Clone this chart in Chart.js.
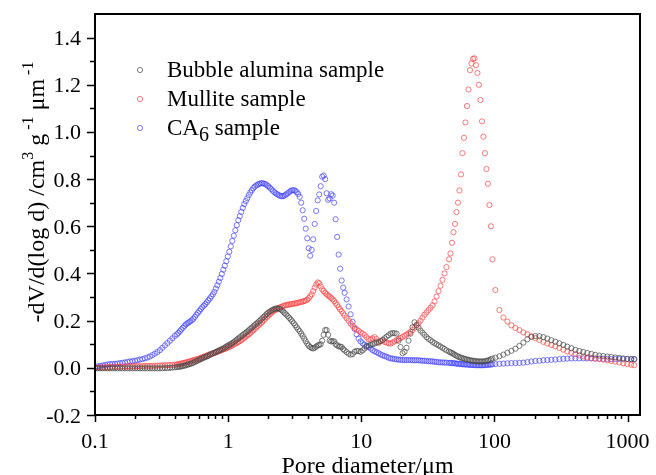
<!DOCTYPE html>
<html>
<head>
<meta charset="utf-8">
<script src="https://cdn.jsdelivr.net/npm/chart.js@4.4.0/dist/chart.umd.min.js"></script>
<style>
  html, body { margin: 0; padding: 0; background: #fff; }
</style>
</head>
<body>
<canvas id="chart" width="656" height="475"></canvas>
<script>
'use strict'
const FONT = '"Liberation Serif", "Times New Roman", serif'

// pore diameter (um), shared by all three samples
const poreDiameter = [
  0.1, 0.1044, 0.109, 0.1138, 0.1189, 0.1241, 0.1296, 0.1353, 0.1413, 0.1475, 0.154, 0.1608, 0.1679, 0.1753, 0.183,
  0.1911, 0.1995, 0.2083, 0.2175, 0.2271, 0.2371, 0.2476, 0.2585, 0.2699, 0.2818, 0.2943, 0.3073, 0.3208, 0.335,
  0.3498, 0.3652, 0.3813, 0.3981,
  0.4121, 0.4229, 0.434, 0.4454, 0.4571, 0.4691, 0.4814, 0.494, 0.507, 0.5203, 0.534, 0.548, 0.5623, 0.5771, 0.5923,
  0.6078, 0.6237, 0.6401, 0.6569, 0.6742, 0.6918, 0.71, 0.7286, 0.7477, 0.7674, 0.7875, 0.8082, 0.8294, 0.8511, 0.8734,
  0.8964, 0.92, 0.9441, 0.9688, 0.9943, 1.0203, 1.0471, 1.0746, 1.1028, 1.1318, 1.1614, 1.1919, 1.2232, 1.2553, 1.2882,
  1.3221, 1.3568, 1.3924, 1.4289, 1.4665, 1.505, 1.5445, 1.5849, 1.6265, 1.6692, 1.713, 1.7579, 1.8041, 1.8514, 1.9,
  1.9498, 2.001, 2.0535, 2.1074, 2.1627, 2.2195, 2.2777, 2.3375, 2.3988, 2.4618, 2.5264, 2.5927, 2.6607, 2.7305, 2.8022,
  2.8757, 2.9512, 3.0287, 3.1081, 3.1897, 3.2734, 3.3593,
  3.447, 3.538, 3.631, 3.727, 3.825, 3.925, 4.027, 4.134, 4.243, 4.354, 4.467, 4.585, 4.706, 4.829, 4.955, 5.085, 5.219,
  5.355, 5.495, 5.64, 5.788, 5.94, 6.095, 6.255, 6.42, 6.588, 6.761, 6.939, 7.12, 7.307, 7.499,
  7.762, 8.035, 8.318, 8.61, 8.913, 9.226, 9.55, 9.886, 10.23, 10.59, 10.96, 11.35, 11.75, 12.16, 12.59, 13.03, 13.49,
  13.96, 14.45, 14.96, 15.49, 16.03, 16.6, 17.18, 17.78, 18.41, 19.05, 19.72, 20.42, 21.13, 21.88, 22.65, 23.44, 24.27,
  25.12, 26.0, 26.92, 27.86, 28.84, 29.85, 30.9, 31.99, 33.11, 34.28, 35.48, 36.73, 38.02, 39.36, 40.74, 42.17, 43.65,
  45.58, 46.77, 48.0, 49.26, 50.55, 51.88, 53.24, 54.64, 56.07, 57.54, 59.05, 60.6, 62.19, 63.83, 65.5, 67.22, 68.99,
  70.79, 72.65, 74.56, 76.52, 78.52, 80.59, 82.7, 84.87, 87.1, 89.39, 91.73, 94.14, 96.6,
  101.7, 109, 116.8, 125.2, 134.1, 143.7, 154, 165, 176.8, 189.5, 203, 217.6, 233.1, 249.7, 267.6, 286.7, 307.3, 329.3,
  352.7, 378, 405.1, 434.1, 465.1, 498.4, 534.1, 572.3, 613.2, 657.1, 704.1, 754.5, 808.5, 866.4, 928.4, 994.3, 1065, 1122,
]

const bubbleAlumina = [
  -0.002, -0.002, -0.002, -0.002, -0.002, -0.002, -0.002, -0.002, -0.002, -0.002, -0.002, -0.002, -0.002, -0.002,
  -0.002, -0.002, -0.002, -0.002, -0.002, -0.002, -0.002, -0.002, -0.002, -0.002, -0.002, -0.002, -0.002, -0.002,
  -0.001, -0.001, 0.0, 0.001, 0.002,
  0.003, 0.004, 0.005, 0.006, 0.008, 0.009, 0.011, 0.013, 0.015, 0.017, 0.019, 0.022, 0.025, 0.028, 0.031, 0.034, 0.037,
  0.04, 0.043, 0.046, 0.048, 0.051, 0.055, 0.058, 0.061, 0.064, 0.067, 0.07, 0.073, 0.076, 0.079, 0.082, 0.086, 0.09,
  0.094, 0.097, 0.101, 0.105, 0.109, 0.114, 0.119, 0.124, 0.129, 0.134, 0.139, 0.144, 0.149, 0.154, 0.159, 0.165, 0.17,
  0.176, 0.181, 0.187, 0.192, 0.198, 0.204, 0.21, 0.216, 0.222, 0.228, 0.234, 0.238, 0.242, 0.246, 0.249, 0.251, 0.252,
  0.251, 0.249, 0.244, 0.238, 0.232, 0.226, 0.219, 0.212, 0.205, 0.197, 0.189, 0.181, 0.172, 0.163,
  0.155, 0.145, 0.135, 0.124, 0.113, 0.102, 0.094, 0.088, 0.084, 0.082, 0.085, 0.09, 0.095, 0.097, 0.1, 0.115, 0.14,
  0.16, 0.16, 0.14, 0.115, 0.112, 0.113, 0.112, 0.1, 0.095, 0.091, 0.09, 0.088, 0.08, 0.074,
  0.067, 0.06, 0.056, 0.058, 0.068, 0.072, 0.071, 0.068, 0.074, 0.082, 0.09, 0.094, 0.097, 0.1, 0.103, 0.107, 0.11,
  0.113, 0.118, 0.125, 0.132, 0.138, 0.145, 0.147, 0.147, 0.145, 0.115, 0.088, 0.062, 0.068, 0.085, 0.115, 0.145, 0.172,
  0.193, 0.182, 0.17, 0.158, 0.149, 0.14, 0.13, 0.123, 0.117, 0.11, 0.105, 0.1, 0.095, 0.09, 0.085, 0.08, 0.074,
  0.069, 0.066, 0.063, 0.059, 0.055, 0.051, 0.048, 0.045, 0.043, 0.041, 0.039, 0.037, 0.035, 0.034, 0.032, 0.031, 0.03,
  0.029, 0.028, 0.027, 0.027, 0.027, 0.027, 0.027, 0.028, 0.029, 0.031, 0.033, 0.036, 0.039,
  0.043, 0.049, 0.056, 0.064, 0.072, 0.081, 0.093, 0.107, 0.121, 0.131, 0.135, 0.134, 0.13, 0.124, 0.117, 0.111, 0.104, 0.097,
  0.09, 0.083, 0.076, 0.071, 0.067, 0.063, 0.059, 0.055, 0.052, 0.05, 0.048, 0.046, 0.044, 0.042, 0.04, 0.038, 0.037, 0.036,
]

const mullite = [
  0.0, 0.001, 0.001, 0.002, 0.002, 0.003, 0.003, 0.004, 0.004, 0.005, 0.005, 0.005, 0.006, 0.006, 0.006, 0.006, 0.007,
  0.007, 0.007, 0.007, 0.008, 0.008, 0.008, 0.008, 0.009, 0.009, 0.01, 0.01, 0.011, 0.011, 0.012, 0.012, 0.013,
  0.014, 0.015, 0.017, 0.018, 0.02, 0.021, 0.023, 0.024, 0.026, 0.028, 0.03, 0.032, 0.034, 0.036, 0.038, 0.04, 0.042,
  0.045, 0.047, 0.05, 0.052, 0.055, 0.057, 0.059, 0.061, 0.063, 0.065, 0.068, 0.07, 0.073, 0.075, 0.078, 0.08, 0.083,
  0.086, 0.089, 0.092, 0.095, 0.099, 0.102, 0.106, 0.109, 0.113, 0.118, 0.122, 0.127, 0.132, 0.137, 0.142, 0.148, 0.153,
  0.159, 0.165, 0.171, 0.177, 0.183, 0.189, 0.195, 0.202, 0.208, 0.215, 0.221, 0.227, 0.233, 0.238, 0.243, 0.246, 0.25,
  0.254, 0.257, 0.259, 0.262, 0.264, 0.266, 0.267, 0.269, 0.27, 0.271, 0.272, 0.273, 0.274, 0.276,
  0.278, 0.279, 0.281, 0.283, 0.285, 0.289, 0.295, 0.303, 0.312, 0.325, 0.34, 0.353, 0.362, 0.358, 0.345, 0.333, 0.325,
  0.318, 0.312, 0.306, 0.302, 0.296, 0.29, 0.283, 0.275, 0.266, 0.257, 0.248, 0.24, 0.231, 0.222,
  0.21, 0.2, 0.188, 0.178, 0.17, 0.163, 0.157, 0.15, 0.145, 0.139, 0.13, 0.121, 0.12, 0.125, 0.13, 0.122, 0.105,
  0.114, 0.116, 0.11, 0.107, 0.104, 0.103, 0.107, 0.112, 0.117, 0.122, 0.126, 0.131, 0.136, 0.141, 0.146, 0.153, 0.16,
  0.17, 0.179, 0.189, 0.2, 0.213, 0.225, 0.235, 0.245, 0.255, 0.265, 0.281, 0.302, 0.325, 0.348, 0.373, 0.4, 0.427,
  0.46, 0.485, 0.53, 0.575, 0.61, 0.66, 0.7, 0.752, 0.82, 0.91, 0.975, 1.04, 1.11, 1.18, 1.262, 1.29, 1.31,
  1.312, 1.283, 1.25, 1.2, 1.135, 1.045, 0.98, 0.91, 0.843, 0.78, 0.69, 0.6, 0.46,
  0.33, 0.245, 0.213, 0.196, 0.18, 0.169, 0.16, 0.15, 0.142, 0.134, 0.126, 0.118, 0.11, 0.103, 0.097, 0.091, 0.084, 0.077,
  0.07, 0.064, 0.058, 0.053, 0.048, 0.044, 0.041, 0.039, 0.037, 0.035, 0.032, 0.029, 0.026, 0.023, 0.019, 0.016, 0.013, 0.011,
]

const ca6 = [
  0.003, 0.006, 0.008, 0.01, 0.012, 0.014, 0.016, 0.016, 0.017, 0.018, 0.02, 0.021, 0.023, 0.025, 0.027, 0.028, 0.03,
  0.032, 0.035, 0.037, 0.04, 0.044, 0.048, 0.054, 0.06, 0.067, 0.075, 0.085, 0.095, 0.105, 0.115, 0.125, 0.135,
  0.142, 0.148, 0.155, 0.163, 0.17, 0.177, 0.184, 0.189, 0.193, 0.197, 0.202, 0.208, 0.216, 0.225, 0.233, 0.241, 0.249,
  0.257, 0.264, 0.27, 0.278, 0.286, 0.294, 0.303, 0.312, 0.322, 0.336, 0.35, 0.365, 0.381, 0.398, 0.416, 0.433, 0.452,
  0.472, 0.492, 0.515, 0.538, 0.56, 0.583, 0.605, 0.626, 0.643, 0.661, 0.678, 0.694, 0.707, 0.719, 0.732, 0.743, 0.753,
  0.762, 0.768, 0.773, 0.777, 0.78, 0.782, 0.783, 0.781, 0.779, 0.775, 0.77, 0.764, 0.758, 0.751, 0.745, 0.74, 0.736,
  0.732, 0.729, 0.727, 0.728, 0.731, 0.735, 0.74, 0.745, 0.75, 0.753, 0.753, 0.751, 0.745, 0.737,
  0.725, 0.7, 0.668, 0.632, 0.59, 0.549, 0.507, 0.475, 0.5, 0.545, 0.61, 0.665, 0.71, 0.735, 0.77, 0.81, 0.815,
  0.8, 0.74, 0.712, 0.718, 0.736, 0.73, 0.7, 0.63, 0.555, 0.48, 0.42, 0.37, 0.34, 0.318,
  0.29, 0.26, 0.227, 0.195, 0.165, 0.142, 0.124, 0.112, 0.104, 0.098, 0.093, 0.088, 0.082, 0.075, 0.07, 0.066, 0.062,
  0.057, 0.053, 0.05, 0.047, 0.043, 0.04, 0.039, 0.037, 0.036, 0.035, 0.034, 0.033, 0.033, 0.033, 0.033, 0.033, 0.032,
  0.032, 0.032, 0.032, 0.031, 0.03, 0.03, 0.029, 0.028, 0.028, 0.027, 0.026, 0.025, 0.024, 0.023, 0.023, 0.022, 0.022,
  0.021, 0.021, 0.02, 0.02, 0.019, 0.018, 0.017, 0.017, 0.016, 0.015, 0.015, 0.014, 0.014, 0.013, 0.013, 0.012, 0.012,
  0.012, 0.011, 0.011, 0.011, 0.011, 0.011, 0.011, 0.012, 0.012, 0.013, 0.013, 0.014, 0.015,
  0.016, 0.017, 0.018, 0.019, 0.02, 0.02, 0.021, 0.022, 0.024, 0.027, 0.029, 0.03, 0.032, 0.033, 0.034, 0.035, 0.037, 0.038,
  0.039, 0.04, 0.04, 0.04, 0.04, 0.04, 0.04, 0.039, 0.039, 0.038, 0.038, 0.037, 0.037, 0.037, 0.037, 0.037, 0.037, 0.037,
]

const seriesNames = ['Bubble alumina sample', 'Mullite sample', 'CA6 sample']
const seriesColors = ['rgba(75,75,75,0.72)', 'rgba(255,60,60,0.68)', 'rgba(60,60,255,0.68)']

const xTickValues = [0.1, 1, 10, 100, 1000]
const xTickLabels = ['0.1', '1', '10', '100', '1000']
const yTickValues = [-0.2, 0, 0.2, 0.4, 0.6, 0.8, 1.0, 1.2, 1.4]
const yTickLabels = ['-0.2', '0.0', '0.2', '0.4', '0.6', '0.8', '1.0', '1.2', '1.4']

function toPoints(ys) {
  return ys.map((y, i) => ({ x: poreDiameter[i], y: y }))
}

const datasets = [bubbleAlumina, mullite, ca6].map((ys, i) => ({
  label: seriesNames[i],
  data: toPoints(ys),
  showLine: false,
  pointStyle: 'circle',
  pointRadius: 2.6,
  pointBorderWidth: 1,
  pointBorderColor: seriesColors[i],
  pointBackgroundColor: 'rgba(0,0,0,0)',
}))

// frame, tick marks, tick labels, axis titles and the legend
const decorations = {
  id: 'decorations',
  afterDraw(chart) {
    const { ctx, chartArea: a, scales } = chart
    const x = scales.x
    const y = scales.y
    ctx.save()
    ctx.setLineDash([])
    ctx.globalAlpha = 1
    ctx.strokeStyle = '#000'
    ctx.lineWidth = 2
    ctx.beginPath()
    ctx.moveTo(a.left, a.top)
    ctx.lineTo(a.right, a.top)
    ctx.lineTo(a.right, a.bottom)
    ctx.lineTo(a.left, a.bottom)
    ctx.closePath()
    ctx.stroke()

    ctx.lineWidth = 1.5
    ctx.beginPath()
    for (let d = 0.1; d <= 1000; d *= 10) {
      for (let k = 1; k <= 9; k++) {
        const v = d * k
        if (v > x.max) break
        const px = Math.round(x.getPixelForValue(v)) + 0.5
        const len = k === 1 ? 7 : 4
        ctx.moveTo(px, a.bottom)
        ctx.lineTo(px, a.bottom + len)
      }
    }
    for (let i = -2; i <= 14; i++) {
      const py = Math.round(y.getPixelForValue(i / 10)) + 0.5
      const len = i % 2 === 0 ? 8 : 5
      ctx.moveTo(a.left, py)
      ctx.lineTo(a.left - len, py)
    }
    ctx.stroke()

    ctx.fillStyle = '#000'
    ctx.font = '22px ' + FONT
    ctx.textBaseline = 'alphabetic'
    ctx.textAlign = 'center'
    xTickValues.forEach((v, i) => {
      ctx.fillText(xTickLabels[i], x.getPixelForValue(v), a.bottom + 33)
    })
    ctx.textAlign = 'right'
    yTickValues.forEach((v, i) => {
      ctx.fillText(yTickLabels[i], a.left - 14, y.getPixelForValue(v) + 7.5)
    })

    // x title
    ctx.font = '24px ' + FONT
    ctx.textAlign = 'center'
    ctx.fillText('Pore diameter/\u03bcm', (a.left + a.right) / 2, 473)

    // y title with superscripts
    const parts = [
      ['-dV/d(log d) /cm', false],
      ['3', true],
      [' g', false],
      [' -1', true],
      [' \u03bcm', false],
      [' -1', true],
    ]
    const mainFont = '24px ' + FONT
    const supFont = '16px ' + FONT
    let total = 0
    parts.forEach(([t, sup]) => {
      ctx.font = sup ? supFont : mainFont
      total += ctx.measureText(t).width
    })
    ctx.translate(44, 192)
    ctx.rotate(-Math.PI / 2)
    ctx.textAlign = 'left'
    let cx = -total / 2
    parts.forEach(([t, sup]) => {
      ctx.font = sup ? supFont : mainFont
      ctx.fillText(t, cx, sup ? -11 : 0)
      cx += ctx.measureText(t).width
    })
    ctx.setTransform(1, 0, 0, 1, 0, 0)

    // legend
    const rows = [70, 99, 128]
    rows.forEach((ry, i) => {
      ctx.strokeStyle = seriesColors[i]
      ctx.lineWidth = 1
      ctx.beginPath()
      ctx.arc(140, ry, 2.6, 0, Math.PI * 2)
      ctx.stroke()
      ctx.fillStyle = '#000'
      ctx.font = '23px ' + FONT
      ctx.textAlign = 'left'
      const base = ry + 7
      if (i === 2) {
        ctx.fillText('CA', 167, base)
        let w = ctx.measureText('CA').width
        ctx.font = '20px ' + FONT
        ctx.fillText('6', 167 + w, base + 6)
        w += ctx.measureText('6').width
        ctx.font = '23px ' + FONT
        ctx.fillText(' sample', 167 + w, base)
      } else {
        ctx.fillText(seriesNames[i], 167, base)
      }
    })
    ctx.restore()
  },
}

const chart = new Chart(document.getElementById('chart'), {
  type: 'scatter',
  data: { datasets: datasets },
  options: {
    responsive: false,
    animation: false,
    devicePixelRatio: 1,
    layout: { padding: { top: 14, right: 16, left: 0, bottom: 0 } },
    plugins: { legend: { display: false }, tooltip: { enabled: false } },
    scales: {
      x: {
        type: 'logarithmic',
        min: 0.1,
        max: 1240,
        afterBuildTicks: (s) => { s.ticks = xTickValues.map((v) => ({ value: v })) },
        afterFit: (s) => { s.height = 60 },
        ticks: { display: false },
        grid: { display: false, drawTicks: false },
        border: { display: false },
      },
      y: {
        type: 'linear',
        min: -0.2,
        max: 1.5,
        afterBuildTicks: (s) => { s.ticks = yTickValues.map((v) => ({ value: v })) },
        afterFit: (s) => { s.width = 95 },
        ticks: { display: false },
        grid: { display: false, drawTicks: false },
        border: { display: false },
      },
    },
  },
  plugins: [decorations],
})
</script>
</body>
</html>
